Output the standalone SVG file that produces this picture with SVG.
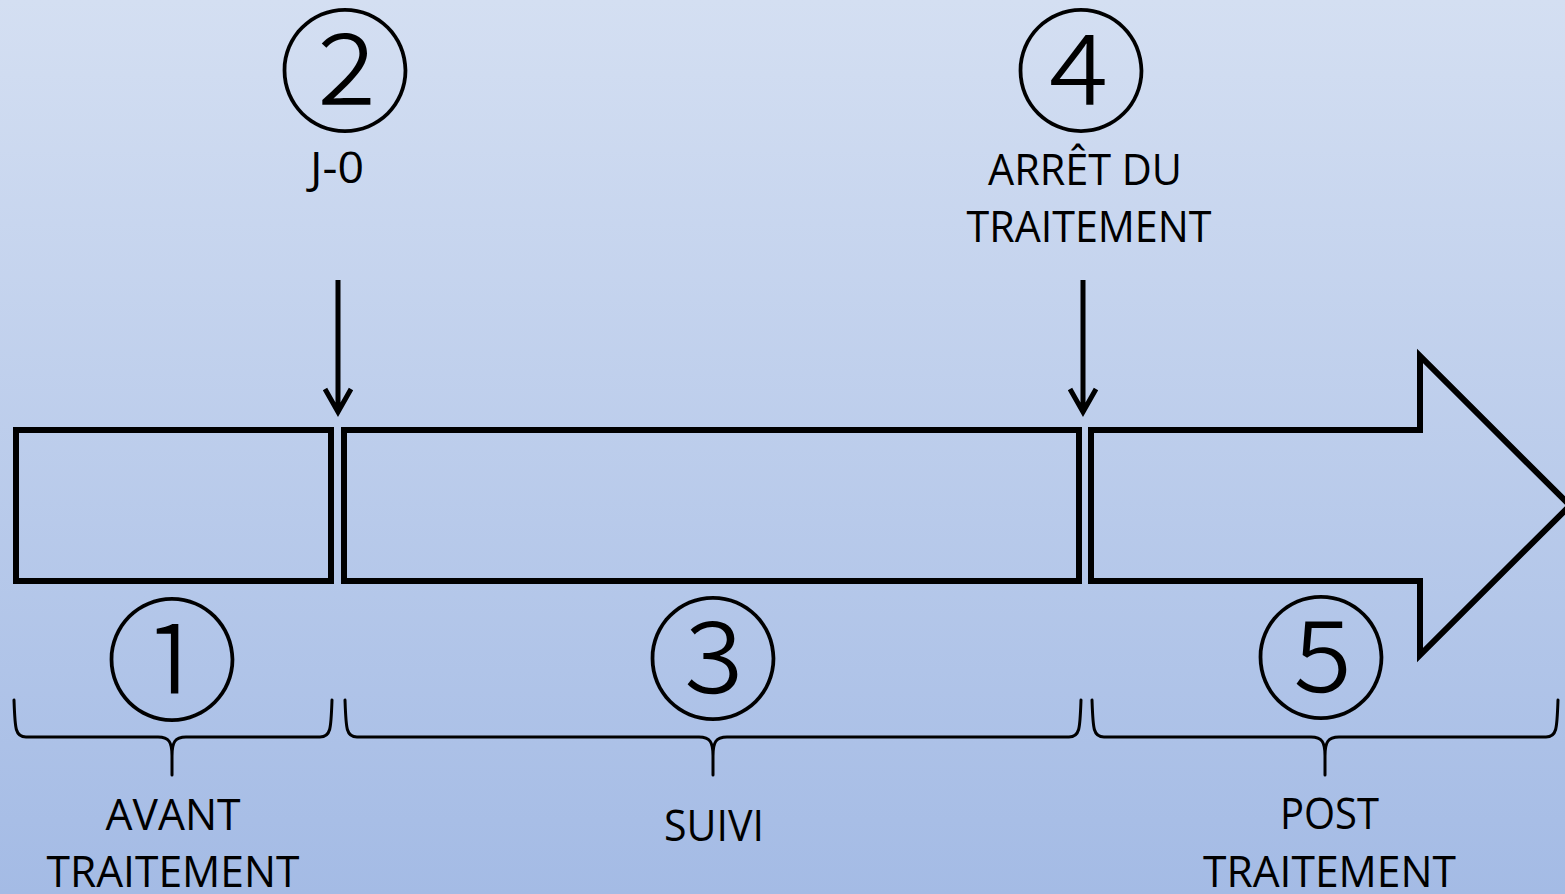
<svg xmlns="http://www.w3.org/2000/svg" width="1565" height="894" viewBox="0 0 1565 894">
<defs>
<linearGradient id="bg" x1="0" y1="0" x2="0" y2="1">
<stop offset="0" stop-color="#D4DFF2"/>
<stop offset="1" stop-color="#A4BBE5"/>
</linearGradient>
<style>
.box{fill:none;stroke:#000;stroke-width:6;}
.brace{fill:none;stroke:#000;stroke-width:3;stroke-linecap:round;}
.arr{fill:none;stroke:#000;stroke-width:5;}
.lbl{font-family:"Open Sans","Noto Sans",sans-serif;font-size:43px;fill:#000;text-anchor:middle;}
.num{font-family:"Noto Sans CJK JP","Noto Sans CJK SC",sans-serif;font-size:135px;font-weight:300;fill:#000;text-anchor:middle;}
</style>
</defs>
<rect width="1565" height="894" fill="url(#bg)"/>
<g id="phase1">
<rect class="box" x="16" y="430" width="315" height="151"/>
</g>
<g id="phase3">
<rect class="box" x="344" y="430" width="735" height="151"/>
</g>
<g id="phase5">
<path class="box" d="M1091,430 H1420 V356 L1570,505.5 L1420,655 V581 H1091 Z"/>
</g>
<g id="marker2">
<text class="num" x="345" y="122">②</text>
<text class="lbl" x="337" y="183" textLength="54" lengthAdjust="spacingAndGlyphs">J-0</text>
</g>
<g id="marker4">
<text class="num" x="1081" y="122">④</text>
<text class="lbl" x="1085" y="185" textLength="194" lengthAdjust="spacingAndGlyphs">ARRÊT DU</text>
<text class="lbl" x="1089" y="242" textLength="245" lengthAdjust="spacingAndGlyphs">TRAITEMENT</text>
</g>
<g id="label1">
<text class="num" x="172" y="711">①</text>
<path class="brace" d="M14,700 C15,728 15,737 26,737 L158,737 C169,737 172,742 172,756 L172,775 M172,756 C172,742 175,737 186,737 L320,737 C331,737 331,728 332,700"/>
<text class="lbl" x="173" y="830" textLength="135" lengthAdjust="spacingAndGlyphs">AVANT</text>
<text class="lbl" x="173" y="887" textLength="253" lengthAdjust="spacingAndGlyphs">TRAITEMENT</text>
</g>
<g id="label3">
<text class="num" x="713" y="710">③</text>
<path class="brace" d="M345,700 C346,728 346,737 357,737 L699,737 C710,737 713,742 713,756 L713,775 M713,756 C713,742 716,737 727,737 L1069,737 C1080,737 1080,728 1081,700"/>
<text class="lbl" x="714" y="841" textLength="100" lengthAdjust="spacingAndGlyphs">SUIVI</text>
</g>
<g id="label5">
<text class="num" x="1321" y="709">⑤</text>
<path class="brace" d="M1092,700 C1093,728 1093,737 1104,737 L1311,737 C1322,737 1325,742 1325,756 L1325,775 M1325,756 C1325,742 1328,737 1339,737 L1546,737 C1557,737 1557,728 1558,700"/>
<text class="lbl" x="1329.5" y="829" textLength="99" lengthAdjust="spacingAndGlyphs">POST</text>
<text class="lbl" x="1329.5" y="887" textLength="253" lengthAdjust="spacingAndGlyphs">TRAITEMENT</text>
</g>
<g id="connectors">
<path class="arr" d="M338,280 V410 M325,389 L338,412 L351,389"/>
<path class="arr" d="M1083,280 V410 M1070,389 L1083,412 L1096,389"/>
</g>
</svg>
